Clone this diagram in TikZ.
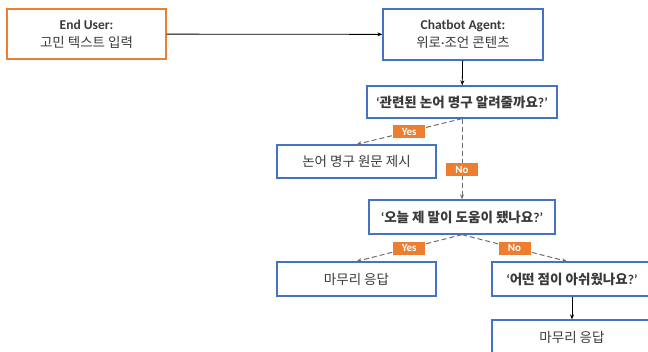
\documentclass[tikz,border=0pt]{standalone}
\usepackage{fontspec}
\setmainfont{Carlito}
\newfontfamily\kr{Noto Sans CJK KR}
\usetikzlibrary{arrows.meta, positioning}
\definecolor{boxblue}{HTML}{4472C4}
\definecolor{boxorange}{HTML}{ED7D31}
\definecolor{txtgray}{HTML}{3A3A3A}
\definecolor{linegray}{HTML}{6E6E6E}

\begin{document}
\begin{tikzpicture}[
    x=1pt, y=-1pt,
    box/.style={draw=boxblue, line width=1.3pt, rectangle, minimum width=159pt, minimum height=33pt, align=center, text=txtgray, font=\fontsize{13.5}{16}\selectfont},
    userbox/.style={box, draw=boxorange},
    tag/.style={fill=boxorange, text=white, font=\bfseries\fontsize{11}{12}\selectfont, inner sep=1pt, minimum width=32pt, minimum height=13pt},
    arrow/.style={-{Stealth[length=5pt, width=4pt]}, line width=0.8pt},
    choice/.style={arrow, draw=linegray, line width=1pt, dash pattern=on 5pt off 3pt}
]
\useasboundingbox (0,0) rectangle (648,351);
\clip (0,0) rectangle (648,351);

% input and agent
\node[userbox, minimum height=50pt] (user) at (86.5,34) {\textbf{End User:}\\[2pt]{\kr 고민 텍스트 입력}};
\node[box, minimum width=160pt, minimum height=51pt] (agent) at (463,34.5) {\textbf{Chatbot Agent:}\\[2pt]{\kr 위로}·{\kr 조언 콘텐츠}};

% first question
\node[box, minimum width=190pt, minimum height=32pt] (q1) at (462,102) {\textbf{‘{\kr 관련된 논어 명구 알려줄까요}?’}};
\node[box] (quote) at (356.5,161.5) {{\kr 논어 명구 원문 제시}};

% second question
\node[box, minimum width=186pt, minimum height=34pt] (q2) at (462,217) {\textbf{‘{\kr 오늘 제 말이 도움이 됐나요}?’}};
\node[box, minimum height=34pt] (closeL) at (356.5,279) {{\kr 마무리 응답}};
\node[box, minimum width=160pt, minimum height=34pt] (q3) at (572,279) {\textbf{‘{\kr 어떤 점이 아쉬웠나요}?’}};
\node[box, minimum width=160pt, minimum height=34pt] (closeR) at (572,337) {{\kr 마무리 응답}};

\draw[arrow] (user) -- (agent);
\draw[arrow] (agent) -- (q1);
\draw[choice] (q1.south) -- node[tag] {Yes} (quote.north);
\draw[choice] (q1.south) -- node[tag, pos=0.63] {No} (q2.north);
\draw[choice] (q2.south) -- node[tag] {Yes} (closeL.north);
\draw[choice] (q2.south) -- node[tag] {No} ([xshift=-5pt]q3.north);
\draw[arrow] (q3) -- (closeR);

\end{tikzpicture}
\end{document}
